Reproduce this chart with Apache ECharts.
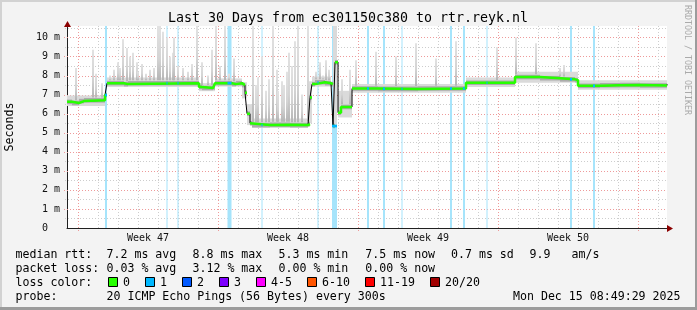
<!DOCTYPE html>
<html><head><meta charset="utf-8">
<script src="https://cdn.jsdelivr.net/npm/echarts@6/dist/echarts.min.js"></script>
<style>html,body{margin:0;padding:0;background:#f3f3f3;overflow:hidden}#c{width:697px;height:310px}</style>
</head><body><div id="c"></div>
<script>
// ---- data (x = days since Mon Nov 17 00:00, y = milliseconds) ----
const X_MIN = -0.55, X_MAX = 29.45, Y_MAX = 10.6;
const yTicks = [0,1,2,3,4,5,6,7,8,9,10];
const weekLabels = ['Week 47','Week 48','Week 49','Week 50'];
const weekCenters = [3.5, 10.5, 17.5, 24.5];
const weekStarts = [0, 7, 14, 21, 28];
// median rtt step points [day, ms]
const medianSteps = [[-0.55,6.62],[-0.3,6.56],[0.05,6.66],[0.3,6.7],[1.35,6.98],[1.45,7.6],[2.3,7.55],[2.5,7.6],
  [6.05,7.4],[6.2,7.35],[6.75,7.38],[6.85,7.6],[7.7,7.55],[7.9,7.6],[8.2,7.5],[8.35,7.1],[8.45,6.0],[8.6,5.5],
  [8.7,5.4],[9.6,5.42],[10.6,5.4],[11.5,5.45],[11.6,6.85],[11.7,7.55],[11.85,7.65],[12.35,7.6],[12.65,7.55],
  [12.75,5.35],[12.85,8.7],[13.0,6.05],[13.15,6.35],[13.7,7.32],[15.0,7.3],[17.0,7.32],[19.4,7.62],[21.85,7.92],
  [23.1,7.86],[24.1,7.8],[24.85,7.76],[25.0,7.46],[26.1,7.49],[27.1,7.5],[28.1,7.48],[29.45,7.55]];
// smoke (ping spread) segments [dayFrom, dayTo, lowMs, highMs]
const smokeSegs = [[-0.55,1.35,6.4,6.95],[1.45,6.05,7.4,7.9],[6.05,6.85,7.18,7.6],[6.85,8.2,7.42,7.85],
  [8.2,8.45,6.8,7.65],[8.45,8.7,5.4,6.5],[8.7,11.5,5.25,5.75],[11.5,11.7,5.5,7.7],[11.7,12.65,7.42,7.95],
  [12.75,12.95,5.3,10.6],[13.0,13.7,5.8,7.2],[13.7,19.4,7.1,7.55],[19.4,21.85,7.4,7.9],[21.85,25.0,7.62,8.2],
  [25.0,29.45,7.25,7.75]];
// max-ping spikes [day, topMs]
const spikes = [[-0.1,8.4],[0.75,9.35],[0.9,8.1],[1.2,7.6],[1.6,8.0],[1.8,8.3],[2.0,8.7],[2.1,8.4],[2.25,9.9],
  [2.45,9.45],[2.6,9.0],[2.75,9.2],[2.95,8.7],[3.0,8.2],[3.2,8.6],[3.4,8.1],[3.6,8.3],[3.8,8.4],[4.0,10.6],
  [4.1,10.6],[4.25,10.3],[4.45,10.0],[4.6,9.0],[4.75,9.2],[4.8,10.0],[5.0,8.5],[5.25,8.4],[5.5,8.2],[5.7,8.6],
  [5.95,10.6],[6.2,8.7],[6.5,8.0],[6.7,9.35],[6.9,10.6],[7.1,8.5],[7.35,10.6],[7.55,8.1],[7.8,8.9],[8.75,10.6],
  [8.9,7.5],[9.0,7.9],[9.2,9.0],[9.4,7.2],[9.55,7.8],[9.75,10.6],[9.95,8.3],[10.0,7.2],[10.2,7.7],[10.3,7.5],
  [10.45,8.2],[10.55,9.2],[10.7,8.5],[10.85,9.8],[11.0,10.6],[11.2,7.0],[11.5,10.6],[11.9,8.2],[12.1,8.7],
  [12.25,8.0],[12.4,8.8],[12.55,8.3],[13.2,7.8],[13.6,8.3],[13.9,8.8],[14.9,9.25],[15.9,9.0],[16.9,9.7],
  [17.9,8.9],[18.9,9.8],[20.95,9.5],[21.9,10.0],[22.9,9.7],[24.1,8.4],[24.3,8.55]];
// packet-loss periods [dayFrom, dayTo]
const lossBars = [[1.35,1.45],[4.425,4.475],[4.975,5.025],[7.475,7.675],[9.175,9.225],[11.975,12.025],
  [12.7,12.95],[14.45,14.55],[15.25,15.35],[16.175,16.225],[18.6,18.7],[19.25,19.35],[20.425,20.475],
  [24.6,24.7],[25.75,25.85]];
const medianStats = ['7.2 ms avg','8.8 ms max','5.3 ms min','7.5 ms now','0.7 ms sd'];
const lossStats = ['0.03 % avg','3.12 % max','0.00 % min','0.00 % now'];
const lossLegend = [['0','#26ff00'],['1','#00b8ff'],['2','#0059ff'],['3','#7e00ff'],['4-5','#ff00ff'],
  ['6-10','#ff5500'],['11-19','#ff0000'],['20/20','#a10000']];

// ---- styles ----
const MONO = 'DejaVu Sans Mono';
const RED = '#ee9a9a', GRAY = '#cdcdcd';

function medianAt(d){
  let v = medianSteps[0][1];
  for (const p of medianSteps){ if (p[0] <= d) v = p[1]; else break; }
  return v;
}
const vGrid = [];
for (let d = 0; d <= 29; d++) vGrid.push([d, weekStarts.includes(d) ? 1 : 0]);
const hGrid = [];
for (let v = 0.5; v <= 10.5; v += 0.5) hGrid.push([v, Number.isInteger(v) ? 1 : 0]);
const bandData = medianSteps.slice(0,-1).map((p,i)=>[p[0], medianSteps[i+1][0], p[1]]);
const greenData = [];
for (let i = 0; i < medianSteps.length - 1; i++){
  const [d0,v0] = medianSteps[i], d1 = medianSteps[i+1][0], v1 = medianSteps[i+1][1];
  greenData.push([d0,v0]); greenData.push([d1,v0]);
  if (Math.abs(v1 - v0) > 0.3) greenData.push([d1, null]);
}
const spikeData = spikes.map(s => [s[0], medianAt(s[0]) + 0.15, s[1]]);
const lossMarks = lossBars.map(b => [b[0], b[1], medianAt((b[0]+b[1])/2)]);

const chart = echarts.init(document.getElementById('c'), null, {renderer:'canvas'});

function rectBetween(api, x0, x1, y0, y1, style){
  const a = api.coord([x0, y1]), b = api.coord([x1, y0]);
  return {type:'rect', shape:{x:a[0], y:a[1], width:Math.max(b[0]-a[0],1), height:b[1]-a[1]}, style};
}

const graphics = [];
function txt(x, y, text, opts){
  graphics.push(Object.assign({type:'text', x, y, silent:true, style:Object.assign({
    text, fontFamily:MONO, fontSize:11.6, fill:'#000', textAlign:'left', textVerticalAlign:'middle'}, opts||{})}));
}
// frame
graphics.push({type:'rect', shape:{x:0,y:0,width:697,height:2}, style:{fill:'#d2d2d2'}, silent:true});
graphics.push({type:'rect', shape:{x:0,y:0,width:2,height:310}, style:{fill:'#d2d2d2'}, silent:true});
graphics.push({type:'rect', shape:{x:0,y:307,width:697,height:3}, style:{fill:'#9c9c9c'}, silent:true});
graphics.push({type:'rect', shape:{x:695,y:0,width:2,height:310}, style:{fill:'#9c9c9c'}, silent:true});
txt(348, 19, 'Last 30 Days from ec301150c380 to rtr.reyk.nl', {fontSize:13.3, textAlign:'center'});
graphics.push({type:'text', x:687, y:60, rotation:-Math.PI/2, silent:true,
  style:{text:'RRDTOOL / TOBI OETIKER', fontFamily:MONO, fontSize:8.3, fill:'#aaaaaa', textAlign:'center', textVerticalAlign:'middle'}});
const colX = [106.5, 192.5, 278.5, 365.3, 451];
txt(15.5, 254.5, 'median rtt:');
medianStats.forEach((s,i)=>txt(colX[i], 254.5, s));
txt(529.5, 254.5, '9.9'); txt(571.5, 254.5, 'am/s');
txt(15.5, 268.5, 'packet loss:');
lossStats.forEach((s,i)=>txt(colX[i], 268.5, s));
txt(15.5, 282.5, 'loss color:');
const boxX = [108.5,145.5,182.5,219.5,256.5,307.5,365.5,430.5];
lossLegend.forEach((l,i)=>{
  graphics.push({type:'rect', shape:{x:boxX[i], y:277.5, width:9, height:9}, silent:true,
    style:{fill:l[1], stroke:'#000', lineWidth:1}});
  txt(boxX[i]+14.5, 282.5, l[0]);
});
txt(15.5, 296.5, 'probe:');
txt(106.5, 296.5, '20 ICMP Echo Pings (56 Bytes) every 300s');
txt(680.5, 296.5, 'Mon Dec 15 08:49:29 2025', {textAlign:'right'});

chart.setOption({
  animation:false,
  backgroundColor:'#f3f3f3',
  grid:{left:67, right:30, top:26, bottom:82, show:true, backgroundColor:'#ffffff', borderWidth:0,
    containLabel:false, outerBoundsMode:'none'},
  xAxis:{type:'value', min:X_MIN, max:X_MAX, axisLabel:{show:false}, axisTick:{show:false}, splitLine:{show:false},
    axisLine:{onZero:false, lineStyle:{color:'#202020', width:1}}},
  yAxis:{type:'value', min:0, max:Y_MAX, interval:1, splitLine:{show:false}, axisTick:{show:false},
    axisLine:{show:true, onZero:false, lineStyle:{color:'#202020', width:1}},
    name:'Seconds', nameLocation:'middle', nameGap:51, nameRotate:90,
    nameTextStyle:{fontFamily:MONO, fontSize:11.6, color:'#000'},
    axisLabel:{margin:7, fontFamily:MONO, fontSize:10, color:'#111', showMaxLabel:true,
      formatter:v => (Number.isInteger(v) ? (v === 0 ? '0  ' : v + ' m') : '')}},
  graphic:graphics,
  series:[
    {type:'custom', name:'hgrid', z:1, clip:false, silent:true, data:hGrid,
      renderItem:(params, api)=>{
        const cs = params.coordSys, p = api.coord([X_MIN, api.value(0)]);
        const y = Math.round(p[1]) + 0.5, major = api.value(1);
        return {type:'line', shape:{x1:cs.x-(major?3:2), y1:y, x2:cs.x+cs.width, y2:y},
          style:{stroke:major?RED:GRAY, lineWidth:1, lineDash:[1,2]}};
      }},
    {type:'custom', name:'vgrid', z:1, clip:false, silent:true, data:vGrid,
      renderItem:(params, api)=>{
        const cs = params.coordSys, p = api.coord([api.value(0), 0]);
        const x = Math.round(p[0]) + 0.5, major = api.value(1);
        return {type:'line', shape:{x1:x, y1:cs.y, x2:x, y2:cs.y+cs.height+(major?3:2)},
          style:{stroke:major?RED:GRAY, lineWidth:1, lineDash:[1,2]}};
      }},
    {type:'custom', name:'loss', z:2, clip:true, silent:true, data:lossBars,
      renderItem:(params, api)=>rectBetween(api, api.value(0), api.value(1), 0, Y_MAX, {fill:'#a6e4fb'})},
    {type:'custom', name:'smoke', z:3, clip:true, silent:true, data:smokeSegs,
      renderItem:(params, api)=>rectBetween(api, api.value(0), api.value(1), api.value(2), api.value(3), {fill:'#dadada'})},
    {type:'custom', name:'spikes', z:3, clip:true, silent:true, data:spikeData,
      renderItem:(params, api)=>{
        const a = api.coord([api.value(0), api.value(2)]), b = api.coord([api.value(0), api.value(1)]);
        return {type:'rect', shape:{x:Math.round(a[0])-1, y:a[1], width:2, height:b[1]-a[1]},
          style:{fill:new echarts.graphic.LinearGradient(0,0,0,1,[{offset:0,color:'#e2e2e2'},{offset:0.6,color:'#d4d4d4'},{offset:1,color:'#b4b4b4'}])}};
      }},
    {type:'custom', name:'band', z:4, clip:true, silent:true, data:bandData,
      renderItem:(params, api)=>rectBetween(api, api.value(0), api.value(1), api.value(2)-0.12, api.value(2)+0.12, {fill:'#ababab'})},
    {type:'line', name:'median', z:5, step:'end', data:medianSteps, symbol:'none', silent:true,
      lineStyle:{color:'#000', width:1}},
    {type:'line', name:'medianGreen', z:6, data:greenData, symbol:'none', silent:true, connectNulls:false,
      lineStyle:{color:'#26ff00', width:2.5}},
    {type:'custom', name:'lossMedian', z:7, clip:true, silent:true, data:lossMarks,
      renderItem:(params, api)=>rectBetween(api, api.value(0), api.value(1), api.value(2)-0.07, api.value(2)+0.07, {fill:'#00b8ff'})},
    {type:'custom', name:'weeks', z:8, clip:false, silent:true, data:weekCenters.map(d=>[d]),
      renderItem:(params, api)=>{
        const p = api.coord([api.value(0), 0]);
        return {type:'text', x:p[0], y:p[1]+10, style:{text:weekLabels[params.dataIndex], fontFamily:MONO, fontSize:10,
          fill:'#111', textAlign:'center', textVerticalAlign:'middle'}};
      }},
    {type:'custom', name:'arrows', z:9, clip:false, silent:true, data:[[0]],
      renderItem:(params, api)=>{
        const top = api.coord([X_MIN, Y_MAX]), right = api.coord([X_MAX, 0]);
        const tx = Math.round(top[0]) + 0.5, ry = Math.round(right[1]) + 0.5;
        return {type:'group', children:[
          {type:'polygon', shape:{points:[[tx, top[1]-5],[tx-3.5, top[1]+1],[tx+3.5, top[1]+1]]}, style:{fill:'#8b0000'}},
          {type:'polygon', shape:{points:[[right[0]+6, ry],[right[0], ry-3.5],[right[0], ry+3.5]]}, style:{fill:'#8b0000'}}
        ]};
      }}
  ]
});
</script></body></html>
